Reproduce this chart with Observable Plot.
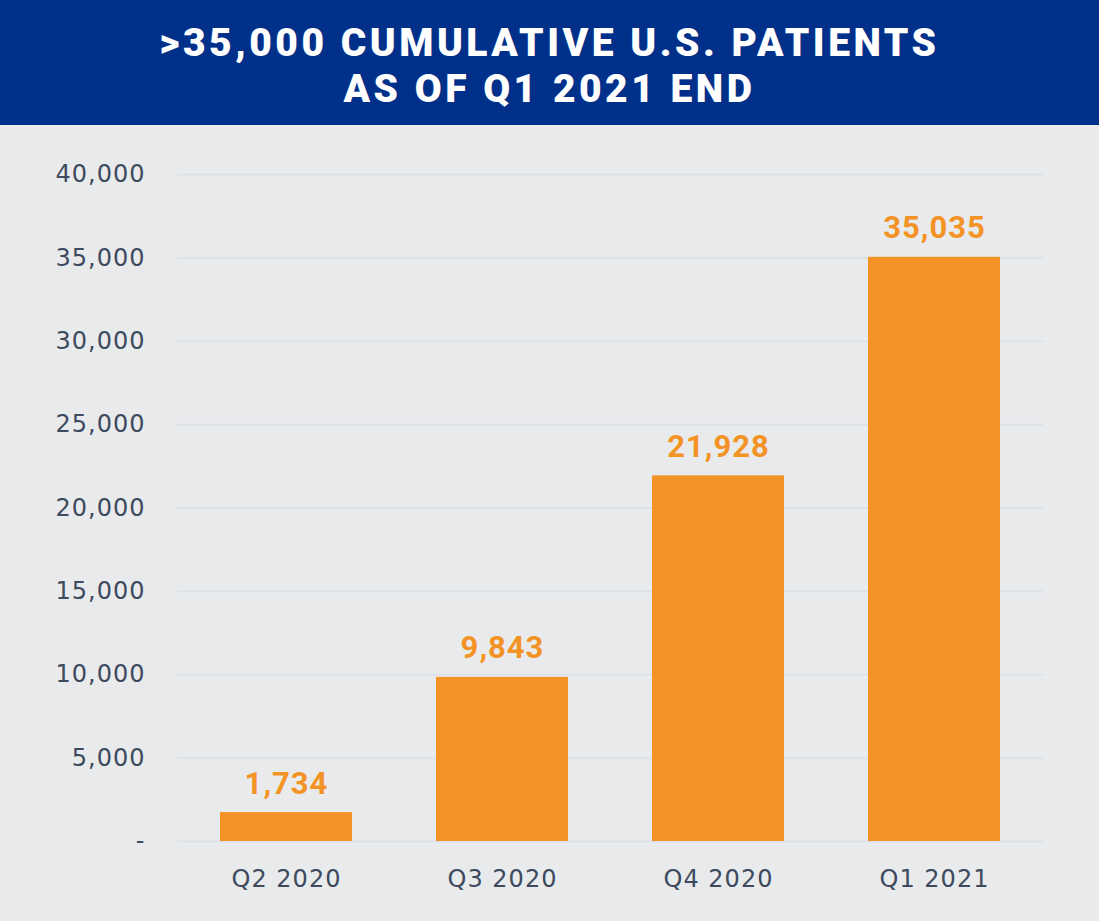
<!DOCTYPE html>
<html>
<head>
<meta charset="utf-8">
<script src="https://cdn.jsdelivr.net/npm/d3@7"></script>
<script src="https://cdn.jsdelivr.net/npm/@observablehq/plot@0.6"></script>
<style>
  html, body { margin: 0; padding: 0; background: #e9eaec; }
  #banner {
    box-sizing: border-box;
    width: 1099px; height: 125px; background: #01308a; color: #ffffff;
    display: flex; flex-direction: column; justify-content: center; align-items: center;
    padding-top: 6px;
    font-family: Roboto, "Liberation Sans", sans-serif; font-weight: 900;
    font-size: 39px; line-height: 46px; letter-spacing: 3.5px; text-align: center;
  }
  #chart svg { display: block; }
</style>
</head>
<body>
<div id="banner"><div>&gt;35,000 CUMULATIVE U.S. PATIENTS</div><div>AS OF Q1 2021 END</div></div>
<div id="chart"></div>
<script>
const quarters = ["Q2 2020", "Q3 2020", "Q4 2020", "Q1 2021"];
const patients = [1734, 9843, 21928, 35035];
const yTicks = [0, 5000, 10000, 15000, 20000, 25000, 30000, 35000, 40000];

const data = quarters.map((q, i) => ({quarter: q, value: patients[i]}));
const fmt = d3.format(",");

const chart = Plot.plot({
  width: 1099,
  height: 796,
  marginTop: 49,
  marginBottom: 80,
  marginLeft: 177,
  marginRight: 56,
  style: {background: "#e9eaec", fontFamily: "'DejaVu Sans', sans-serif", letterSpacing: "1px"},
  x: {domain: quarters, paddingInner: 0.39, paddingOuter: 0.195, label: null},
  y: {domain: [0, 40000], label: null},
  marks: [
    Plot.gridY(yTicks, {stroke: "#dde1e7", strokeOpacity: 1, strokeWidth: 2}),
    Plot.axisY(yTicks, {
      tickSize: 0, tickPadding: 32, label: null,
      tickFormat: d => d === 0 ? "-" : fmt(d),
      fontSize: 24, fill: "#3e4a5e"
    }),
    Plot.axisX({tickSize: 0, tickPadding: 28, label: null, fontSize: 24, fill: "#3e4a5e"}),
    Plot.barY(data, {x: "quarter", y: "value", fill: "#f39325"}),
    Plot.text(data, {
      x: "quarter", y: "value", text: d => fmt(d.value),
      dy: -29, lineAnchor: "middle", fill: "#f39325",
      fontSize: 31, fontWeight: "bold", fontFamily: "Roboto, sans-serif",
      style: {letterSpacing: "0px"}
    })
  ]
});
document.getElementById("chart").appendChild(chart);
</script>
</body>
</html>
